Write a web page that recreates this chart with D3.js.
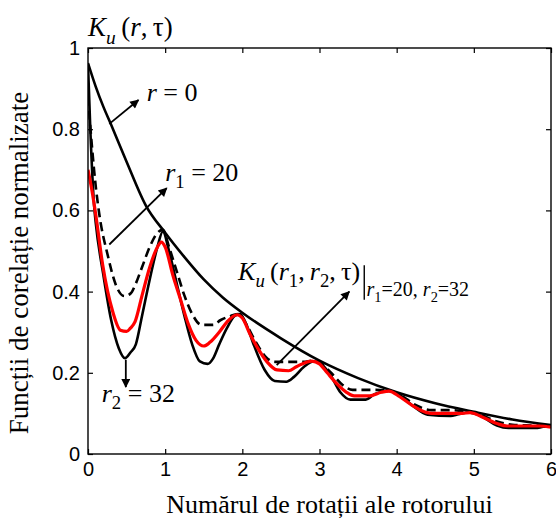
<!DOCTYPE html>
<html>
<head>
<meta charset="utf-8">
<script src="https://cdn.jsdelivr.net/npm/d3@7"></script>
<style>
  body { margin: 0; background: #fff; }
  svg text { fill: #000; }
</style>
</head>
<body>
<svg id="chart" width="556" height="521"></svg>
<script>
// tick labels
var xTicks = [0, 1, 2, 3, 4, 5, 6];
var yTicks = [0, 0.2, 0.4, 0.6, 0.8, 1];

// r = 0 (envelope)
var xR0 = [0, 0.1, 0.2, 0.3, 0.5, 0.75, 1, 1.25, 1.5, 1.75, 2, 2.5, 3, 3.5, 4, 4.5, 5, 5.5, 6];
var yR0 = [0.963, 0.905, 0.855, 0.811, 0.72, 0.612, 0.545, 0.485, 0.43, 0.385, 0.348, 0.285, 0.23, 0.187, 0.152, 0.125, 0.104, 0.085, 0.071];

// r1 = 20 (dashed)
var xR1 = [0, 0.05, 0.1, 0.147, 0.255, 0.36, 0.47, 0.55, 0.62, 0.7, 0.8, 0.9, 0.97, 1.05, 1.15, 1.25, 1.35, 1.47, 1.62, 1.72, 1.85, 1.95, 2.05, 2.16, 2.3, 2.42, 2.79, 2.92, 3.0, 3.15, 3.3, 3.43, 3.73, 3.9, 4.05, 4.25, 4.45, 4.7, 4.9, 5.1, 5.3, 5.5, 5.8, 6.0];
var yR1 = [0.88, 0.76, 0.66, 0.59, 0.49, 0.417, 0.389, 0.395, 0.42, 0.46, 0.51, 0.545, 0.552, 0.51, 0.45, 0.39, 0.345, 0.318, 0.318, 0.33, 0.34, 0.345, 0.32, 0.281, 0.24, 0.227, 0.227, 0.23, 0.225, 0.2, 0.17, 0.158, 0.158, 0.156, 0.145, 0.12, 0.108, 0.108, 0.104, 0.095, 0.08, 0.072, 0.07, 0.068];

// r2 = 32 (solid, lowest)
var xR2 = [0, 0.03, 0.08, 0.1, 0.2, 0.3, 0.4, 0.48, 0.55, 0.62, 0.7, 0.8, 0.9, 0.97, 1.05, 1.15, 1.25, 1.35, 1.45, 1.55, 1.62, 1.7, 1.8, 1.9, 1.97, 2.05, 2.14, 2.29, 2.42, 2.57, 2.67, 2.8, 2.92, 3.0, 3.14, 3.27, 3.4, 3.6, 3.72, 3.9, 4.0, 4.2, 4.4, 4.7, 4.8, 4.95, 5.1, 5.3, 5.45, 5.8, 5.9, 6.0];
var yR2 = [0.96, 0.8, 0.61, 0.57, 0.44, 0.33, 0.26, 0.236, 0.25, 0.27, 0.34, 0.43, 0.51, 0.548, 0.5, 0.42, 0.34, 0.27, 0.228, 0.222, 0.235, 0.27, 0.31, 0.34, 0.345, 0.32, 0.273, 0.207, 0.18, 0.178, 0.19, 0.215, 0.228, 0.225, 0.195, 0.152, 0.134, 0.134, 0.148, 0.155, 0.15, 0.12, 0.097, 0.094, 0.098, 0.103, 0.093, 0.07, 0.064, 0.064, 0.067, 0.068];

// K_u(r1, r2, tau), r1 = 20, r2 = 32 (red)
var xRR = [0, 0.05, 0.1, 0.19, 0.32, 0.42, 0.5, 0.55, 0.61, 0.7, 0.8, 0.9, 0.95, 1.0, 1.1, 1.2, 1.3, 1.4, 1.5, 1.58, 1.7, 1.8, 1.93, 2.0, 2.1, 2.19, 2.32, 2.45, 2.6, 2.7, 2.9, 3.0, 3.1, 3.22, 3.35, 3.45, 3.65, 3.8, 3.9, 4.04, 4.2, 4.39, 4.45, 4.85, 4.95, 5.1, 5.3, 5.43, 5.86, 6.0];
var yRR = [0.7, 0.65, 0.59, 0.466, 0.351, 0.305, 0.302, 0.31, 0.326, 0.39, 0.46, 0.51, 0.522, 0.51, 0.44, 0.38, 0.32, 0.28, 0.266, 0.275, 0.3, 0.325, 0.343, 0.335, 0.295, 0.264, 0.227, 0.207, 0.205, 0.215, 0.229, 0.222, 0.2, 0.174, 0.152, 0.143, 0.143, 0.152, 0.155, 0.141, 0.12, 0.102, 0.1, 0.1, 0.102, 0.092, 0.075, 0.069, 0.069, 0.066];

var serif = "'Liberation Serif', 'DejaVu Serif', serif";
var sans = "'Liberation Sans', Arial, sans-serif";

var margin = {top: 48, right: 5, bottom: 67, left: 88};
var width = 556 - margin.left - margin.right;
var height = 521 - margin.top - margin.bottom;

var svg = d3.select("svg#chart");
var g = svg.append("g").attr("transform", "translate(" + margin.left + "," + margin.top + ")");

var x = d3.scaleLinear().domain([0, 6]).range([0, width]);
var y = d3.scaleLinear().domain([0, 1]).range([height, 0]);

var zip = (xs, ys) => xs.map((v, i) => [v, ys[i]]);
var line = d3.line()
  .x(d => x(d[0]))
  .y(d => y(d[1]))
  .curve(d3.curveMonotoneX);

g.append("defs").append("clipPath").attr("id", "clip")
  .append("rect").attr("width", width).attr("height", height);

var plot = g.append("g").attr("clip-path", "url(#clip)");

plot.append("path").datum(zip(xR0, yR0))
  .attr("d", line).attr("fill", "none").attr("stroke", "#000").attr("stroke-width", 2.6);
plot.append("path").datum(zip(xR2, yR2))
  .attr("d", line).attr("fill", "none").attr("stroke", "#000").attr("stroke-width", 2.6);
plot.append("path").datum(zip(xR1, yR1))
  .attr("d", line).attr("fill", "none").attr("stroke", "#000").attr("stroke-width", 2.6)
  .attr("stroke-dasharray", "9,5");
plot.append("path").datum(zip(xRR, yRR))
  .attr("d", line).attr("fill", "none").attr("stroke", "#ff0000").attr("stroke-width", 3.2);

// axes: ticks inside on all four sides
var tl = 5;
g.append("g").attr("transform", "translate(0," + height + ")")
  .call(d3.axisBottom(x).tickValues(xTicks).tickFormat(d3.format("d")).tickSizeInner(-tl).tickSizeOuter(0).tickPadding(8));
g.append("g")
  .call(d3.axisLeft(y).tickValues(yTicks).tickFormat(d => d === 0 || d === 1 ? d : d3.format(".1f")(d)).tickSizeInner(-tl).tickSizeOuter(0).tickPadding(8));
g.append("g")
  .call(d3.axisTop(x).tickValues(xTicks).tickFormat("").tickSizeInner(-tl).tickSizeOuter(0));
g.append("g").attr("transform", "translate(" + width + ",0)")
  .call(d3.axisRight(y).tickValues(yTicks).tickFormat("").tickSizeInner(-tl).tickSizeOuter(0));
g.selectAll(".domain").remove();
g.selectAll(".tick line").attr("stroke", "#000").attr("stroke-width", 1.2);
g.selectAll(".tick text").attr("font-family", sans).attr("font-size", 20).attr("fill", "#000");
g.append("rect").attr("width", width).attr("height", height)
  .attr("fill", "none").attr("stroke", "#000").attr("stroke-width", 1.4);

// axis labels
svg.append("text").attr("font-family", serif)
  .attr("x", margin.left + width / 2 + 10).attr("y", 513)
  .attr("text-anchor", "middle").attr("font-size", 26)
  .text("Numărul de rotații ale rotorului");
svg.append("text").attr("font-family", serif)
  .attr("transform", "translate(28," + (margin.top + height / 2 + 12) + ") rotate(-90)")
  .attr("text-anchor", "middle").attr("font-size", 27)
  .text("Funcții de corelație normalizate");

// arrow marker
svg.append("defs").append("marker")
  .attr("id", "ah").attr("viewBox", "0 0 10 10").attr("refX", 9).attr("refY", 5)
  .attr("markerWidth", 11).attr("markerHeight", 9).attr("markerUnits", "userSpaceOnUse")
  .attr("orient", "auto")
  .append("path").attr("d", "M0,0 L10,5 L0,10 Z").attr("fill", "#000");

function arrow(x1, y1, x2, y2) {
  g.append("line")
    .attr("x1", x(x1)).attr("y1", y(y1)).attr("x2", x(x2)).attr("y2", y(y2))
    .attr("stroke", "#000").attr("stroke-width", 1.8).attr("marker-end", "url(#ah)");
}

// text with italic / subscript parts: [text, italic, sub]
function label(px, py, parts, fs) {
  var t = g.append("text").attr("font-family", serif).attr("x", x(px)).attr("y", y(py)).attr("font-size", fs);
  var shift = 0;
  parts.forEach(p => {
    var want = p[2] ? Math.round(fs * 0.28) : 0;
    t.append("tspan")
      .attr("dy", want - shift)
      .attr("font-style", p[1] ? "italic" : "normal")
      .attr("font-size", p[2] ? fs * 0.72 : fs)
      .text(p[0]);
    shift = want;
  });
  return t;
}

// top-left title
label(0, 1.03, [["K", 1], ["u", 1, 1], ["\u2009(", 0], ["r", 1], [",\u2009", 0], ["τ", 0], [")", 0]], 27);

// r = 0
label(0.76, 0.87, [["r", 1], [" = 0", 0]], 26);
arrow(0.276, 0.813, 0.654, 0.872);

// r1 = 20
label(1.0, 0.672, [["r", 1], ["1", 0, 1], [" = 20", 0]], 26);
arrow(0.276, 0.516, 1.02, 0.655);

// r2 = 32
label(0.178, 0.129, [["r", 1], ["2", 0, 1], [" = 32", 0]], 26);
arrow(0.49, 0.232, 0.49, 0.165);

// K_u(r1, r2, tau) | r1=20, r2=32
label(1.945, 0.429, [["K", 1], ["u", 1, 1], ["\u2009(", 0], ["r", 1], ["1", 0, 1], [",\u2009", 0], ["r", 1], ["2", 0, 1], [",\u2009", 0], ["τ", 0], [")", 0]], 26);
g.append("line")
  .attr("x1", x(3.58)).attr("x2", x(3.58)).attr("y1", y(0.465)).attr("y2", y(0.38))
  .attr("stroke", "#000").attr("stroke-width", 1.4);
label(3.61, 0.39, [["r", 1], ["1", 0, 1], ["=20, ", 0], ["r", 1], ["2", 0, 1], ["=32", 0]], 20);
arrow(2.445, 0.219, 3.386, 0.40);
</script>
</body>
</html>
